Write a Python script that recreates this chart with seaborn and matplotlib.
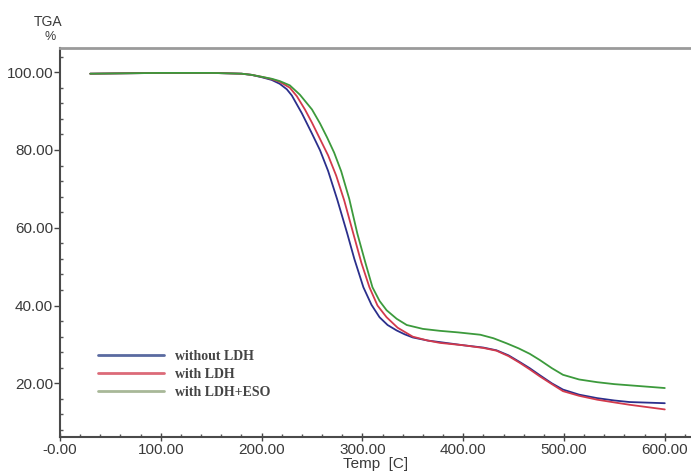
import numpy as np
import pandas as pd
import matplotlib
matplotlib.use('Agg')
import matplotlib.pyplot as plt
from matplotlib.ticker import MultipleLocator
import seaborn as sns

# DATA -----------------------------------------------------------

blue_T = [30, 100, 150, 180, 190, 200, 210, 218, 225, 230, 240, 250, 258, 266, 275, 285,
          292, 301, 309, 317, 325, 334, 342, 350, 365, 377, 400, 420, 433, 445, 456,
          466, 476, 488, 499, 515, 533, 550, 565, 600]
blue_W = [99.6, 99.8, 99.8, 99.6, 99.3, 98.7, 98.0, 97.0, 95.6, 94.0, 89.4, 84.2, 79.9, 74.6,
          67.3, 58.5, 52.0, 44.7, 40.2, 37.0, 35.0, 33.6, 32.6, 31.8, 31.0, 30.6, 29.8, 29.2,
          28.5, 27.2, 25.5, 23.9, 22.1, 20.0, 18.4, 17.1, 16.2, 15.6, 15.2, 14.9]

red_T = [30, 100, 150, 180, 190, 200, 210, 218, 228, 235, 243, 250, 258, 266, 274, 282,
         291, 299, 307, 315, 324, 335, 350, 365, 377, 400, 420, 433, 445, 456, 466, 476,
         488, 499, 515, 533, 550, 565, 600]
red_W = [99.6, 99.8, 99.8, 99.6, 99.3, 98.8, 98.2, 97.5, 96.0, 93.8, 90.4, 87.0, 82.8, 78.6,
         73.4, 67.0, 58.5, 51.0, 44.7, 40.0, 37.0, 34.3, 32.0, 31.0, 30.4, 29.8, 29.1, 28.4,
         27.0, 25.3, 23.6, 21.8, 19.8, 18.0, 16.8, 15.8, 15.1, 14.5, 13.3]

green_T = [30, 100, 150, 180, 190, 200, 210, 218, 228, 238, 250, 258, 265, 272, 279, 287,
           295, 303, 310, 317, 324, 334, 344, 360, 377, 395, 417, 430, 443, 455, 466, 476,
           488, 499, 515, 533, 550, 565, 600]
green_W = [99.6, 99.8, 99.8, 99.6, 99.3, 98.8, 98.3, 97.7, 96.6, 94.2, 90.4, 86.8, 83.2, 79.3,
           74.5, 67.4, 58.5, 51.0, 44.7, 41.2, 38.8, 36.6, 35.0, 34.0, 33.5, 33.1, 32.5, 31.6,
           30.3, 29.0, 27.6, 26.0, 23.9, 22.2, 21.0, 20.3, 19.8, 19.5, 18.8]

labels = ['without LDH', 'with LDH', 'with LDH+ESO']
x_ticks = [0, 100, 200, 300, 400, 500, 600]
x_ticklabels = ['-0.00', '100.00', '200.00', '300.00', '400.00', '500.00', '600.00']
y_ticks = [20, 40, 60, 80, 100]
y_ticklabels = ['20.00', '40.00', '60.00', '80.00', '100.00']

# PLOT ------------------------------------------------------------

sns.set_theme(style='white')
plt.rcParams['font.family'] = ['Liberation Sans', 'DejaVu Sans']

fig = plt.figure(figsize=(6.91, 4.73), dpi=100)
ax = fig.add_axes([0.0868, 0.076, 0.9132, 0.8225])

colors = ['#2b2f8c', '#d23a4c', '#3c9a3c']
for T, W, c, lab in zip([blue_T, red_T, green_T], [blue_W, red_W, green_W], colors, labels):
    sns.lineplot(x=T, y=W, ax=ax, color=c, linewidth=1.3, label=lab, sort=False)

ax.set_xlim(0, 626)
ax.set_ylim(6.2, 106.2)

ax.set_xticks(x_ticks)
ax.set_xticklabels(x_ticklabels)
ax.set_yticks(y_ticks)
ax.set_yticklabels(y_ticklabels)
ax.xaxis.set_minor_locator(MultipleLocator(20))
ax.yaxis.set_minor_locator(MultipleLocator(4))

ax.tick_params(axis='x', which='major', direction='inout', length=6, width=1,
               color='#444444', labelsize=11, labelcolor='#3a3a3a', pad=1, bottom=True)
ax.tick_params(axis='y', which='major', direction='out', length=4, width=1,
               color='#444444', labelsize=11, labelcolor='#3a3a3a', pad=1, left=True)
ax.tick_params(which='minor', direction='in', length=2, width=1, color='#555555',
               bottom=True, left=True)

for s in ['left', 'bottom']:
    ax.spines[s].set_color('#4a4a4a')
    ax.spines[s].set_linewidth(1.5)
ax.spines['top'].set_color('#9a9a9a')
ax.spines['top'].set_linewidth(2)
ax.spines['right'].set_visible(False)

ax.set_xlabel('Temp  [C]', fontsize=11, color='#3a3a3a', labelpad=0)
ax.set_ylabel('')
fig.text(48 / 691, 1 - 22 / 473, 'TGA', ha='center', va='center', fontsize=10, color='#3a3a3a')
fig.text(50 / 691, 1 - 37 / 473, '%', ha='center', va='center', fontsize=9, color='#3a3a3a')

leg = ax.legend(loc='upper left', bbox_to_anchor=(0.04, 0.255), frameon=False,
                handlelength=4.8, handletextpad=0.8, labelspacing=0.35,
                prop={'family': 'Liberation Serif', 'size': 10, 'weight': 'bold'})
leg_colors = ['#5a6aa0', '#dc6a78', '#a8b898']
for line, c in zip(leg.get_lines(), leg_colors):
    line.set_color(c)
    line.set_linewidth(2)
for t in leg.get_texts():
    t.set_color('#444444')

fig.savefig('out.png', dpi=100)
